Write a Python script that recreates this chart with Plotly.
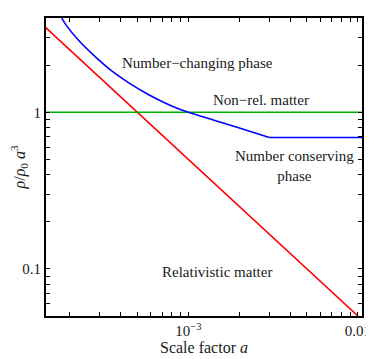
import math
import plotly.graph_objects as go

# data (log-log)
rel_a = [1.4e-4, 0.01]
rel_y = [3.57, 0.05]

nonrel_a = [1.4e-4, 0.0106]
nonrel_y = [1.0, 1.0]

# number-changing phase (smooth part, through the crossing with y=1 down to the knee)
nc_curve_a = [1.79e-4, 1.90e-4, 2.27e-4, 2.84e-4, 3.50e-4, 4.50e-4, 5.80e-4,
              7.50e-4, 8.80e-4, 1.0e-3, 1.5e-3, 2.0e-3, 3.0e-3]
nc_curve_y = [4.0, 3.6, 2.85, 2.25, 1.85, 1.53, 1.30,
              1.13, 1.05, 1.0, 0.874, 0.794, 0.69]
# number-conserving plateau
nc_flat_a = [3.0e-3, 0.0106]
nc_flat_y = [0.69, 0.69]

x_major = [1e-3, 1e-2]
x_major_text = ["10<sup>\u22123</sup>", "0.01"]
y_major = [0.1, 1]
y_major_text = ["0.1", "1"]

FONT = "Liberation Serif, Times New Roman, serif"
TXT = "#1a1a1a"


def log_ticks(lo_exp, hi_exp, majors, major_text):
    vals, text = [], []
    for e in range(lo_exp, hi_exp + 1):
        for d in range(1, 10):
            v = d * 10.0 ** e
            vals.append(v)
            lab = ""
            for m, t in zip(majors, major_text):
                if abs(v - m) / m < 1e-9:
                    lab = t
            text.append(lab)
    return vals, text


xt_vals, xt_text = log_ticks(-4, -2, x_major, x_major_text)
yt_vals, yt_text = log_ticks(-2, 0, y_major, y_major_text)

fig = go.Figure()
fig.add_trace(go.Scatter(x=rel_a, y=rel_y, mode="lines",
                         line=dict(color="#ff0000", width=1.6)))
fig.add_trace(go.Scatter(x=nonrel_a, y=nonrel_y, mode="lines",
                         line=dict(color="#00b000", width=1.6)))
fig.add_trace(go.Scatter(x=nc_curve_a, y=nc_curve_y, mode="lines",
                         line=dict(color="#0000ff", width=1.6, shape="spline")))
fig.add_trace(go.Scatter(x=nc_flat_a, y=nc_flat_y, mode="lines",
                         line=dict(color="#0000ff", width=1.6)))

labels = [
    ("Number\u2212changing phase", 1.125e-3, 2.05),
    ("Non\u2212rel. matter", 2.68e-3, 1.205),
    ("Number conserving<br>phase", 4.22e-3, 0.456),
    ("Relativistic matter", 1.47e-3, 0.0961),
]
# annotations on log axes take log10 positions
for txt, xa, ya in labels:
    fig.add_annotation(x=math.log10(xa), y=math.log10(ya), text=txt,
                       showarrow=False,
                       font=dict(family=FONT, size=15, color=TXT))

axis_common = dict(type="log", showgrid=False, zeroline=False,
                   showline=True, linecolor="black", linewidth=1.8,
                   mirror="allticks", ticks="inside", ticklen=4,
                   tickwidth=1.2, tickcolor="black", automargin=False,
                   ticklabeloverflow="allow",
                   tickfont=dict(family=FONT, size=15, color=TXT))

fig.update_xaxes(**axis_common, range=[-3.84, -1.976],
                 tickmode="array", tickvals=xt_vals, ticktext=xt_text,
                 title=dict(text="Scale factor <i>a</i>", standoff=4,
                            font=dict(family=FONT, size=16, color=TXT)))
fig.update_yaxes(**axis_common, range=[-1.301, 0.602],
                 tickmode="array", tickvals=yt_vals, ticktext=yt_text,
                 title=dict(text="<i>\u03c1</i>/<i>\u03c1</i><sub>0</sub> <i>a</i><sup>3</sup>",
                            standoff=1,
                            font=dict(family=FONT, size=16, color=TXT)))

# page body has an 8px margin, so shrink the figure to keep the frame in place
fig.update_layout(width=366, height=351, showlegend=False,
                  margin=dict(l=38, r=12, t=10, b=43),
                  plot_bgcolor="white", paper_bgcolor="white")

fig.write_html("out.html")
